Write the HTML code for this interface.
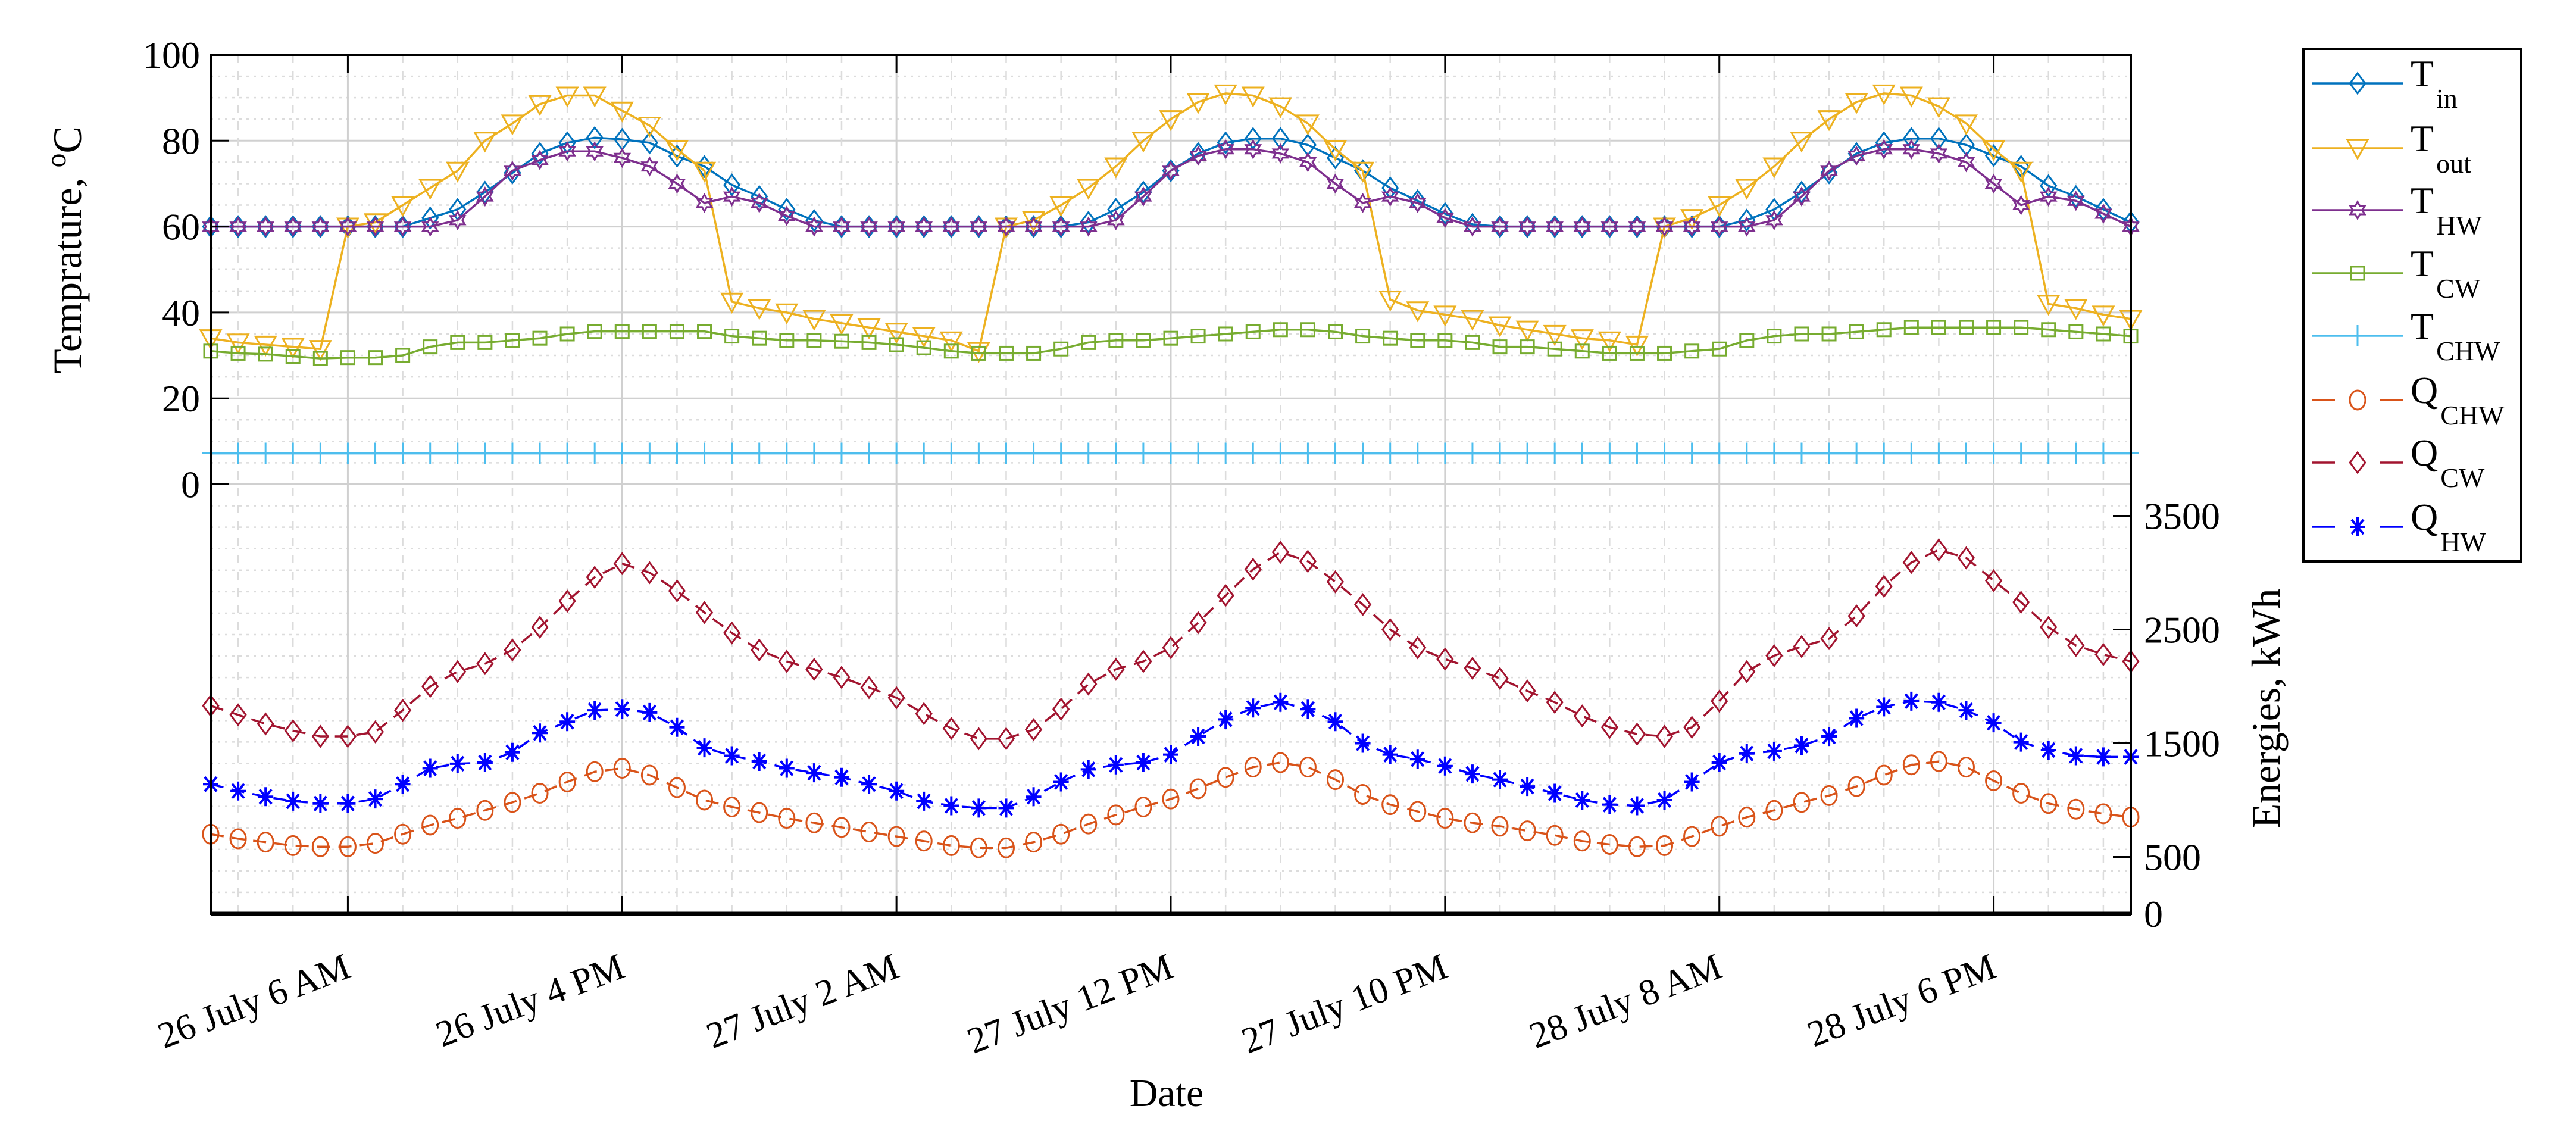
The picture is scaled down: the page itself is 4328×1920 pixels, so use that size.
<!DOCTYPE html>
<html><head><meta charset="utf-8"><style>
html,body{margin:0;padding:0;background:#fff;}
svg{display:block;font-family:"Liberation Serif",serif;}
</style></head><body>
<svg id="chart" width="4328" height="1920" viewBox="0 0 4328 1920" xmlns="http://www.w3.org/2000/svg">
<g id="grid"></g>
<g id="series"></g>
<g id="axes"></g>
<g id="legend"></g>
</svg>
<script>
const hoursCount = 71;
const xTickHours = [5,15,25,35,45,55,65];
const xTickLabels = ["26 July 6 AM","26 July 4 PM","27 July 2 AM","27 July 12 PM","27 July 10 PM","28 July 8 AM","28 July 6 PM"];
const leftTicks = [0,20,40,60,80,100];
const rightTicks = [0,500,1500,2500,3500];
const Tin = [60,60,60,60,60,60,60,60,62,64,68,72.5,77,79.5,80.7,80.3,79.5,76.4,74,69.7,67,64,61.4,60,
60,60,60,60,60,60,60,60,61,64,68,73,77,79.5,80.5,80.5,79,76,73,69,66,63,60.5,60,
60,60,60,60,60,60,60,60,61.5,64,68,72.5,77,79.5,80.5,80.5,79,76.5,74,69.5,67,64,61];
const Tout = [34,33,32.5,32,31.5,
60,61,65,69,73,80,84,88.5,90.5,90.5,87,83.5,78,73,42.5,41,40,38.5,37.5,36.5,35.5,34.5,33.5,31,
60,61.5,65,69,74,80,85,89,91,90.5,88,84,78,73,43,40.5,39.5,38.5,37,36,35,34,33.5,32.5,
60,62,65,69,74,80,85,89,91,90.5,88,84,78,73,42,41,39.5,38.5];
const THW = [60,60,60,60,60,60,60,60,60,61.5,67,73,75.5,77.5,77.5,76,74,70,65.5,67,65.5,62.5,60,60,
60,60,60,60,60,60,60,60,60,61.5,67,73,76.5,78,78,77,75,70,65.5,67,65.5,62,60,60,
60,60,60,60,60,60,60,60,60,61.5,67,73,76.5,78,78,77,75,70,65,67,66,63,60];
const TCW = [31,30.5,30.3,29.8,29.3,29.5,29.5,30,32,33,33,33.5,34,35,35.6,35.6,35.6,35.6,35.6,34.5,34,33.5,33.5,33.3,
33,32.5,31.8,31,30.5,30.5,30.5,31.5,33,33.5,33.5,34,34.5,35,35.5,36,36,35.5,34.5,34,33.5,33.5,33,32,
32,31.5,31,30.5,30.5,30.5,31,31.5,33.5,34.5,35,35,35.5,36,36.5,36.5,36.5,36.5,36.5,36,35.5,35,34.5];
const TCHW = [7.2,7.2,7.2,7.2,7.2,7.2,7.2,7.2,7.2,7.2,7.2,7.2,7.2,7.2,7.2,7.2,7.2,7.2,7.2,7.2,7.2,7.2,7.2,7.2,
7.2,7.2,7.2,7.2,7.2,7.2,7.2,7.2,7.2,7.2,7.2,7.2,7.2,7.2,7.2,7.2,7.2,7.2,7.2,7.2,7.2,7.2,7.2,7.2,
7.2,7.2,7.2,7.2,7.2,7.2,7.2,7.2,7.2,7.2,7.2,7.2,7.2,7.2,7.2,7.2,7.2,7.2,7.2,7.2,7.2,7.2,7.2];
const QCHW = [700,660,630,600,590,590,620,700,780,840,910,980,1060,1160,1250,1280,1220,1110,1000,940,890,840,800,760,
720,680,640,600,580,580,630,700,790,870,940,1010,1100,1200,1290,1330,1290,1180,1050,960,900,840,800,770,
730,690,640,610,590,600,680,770,850,910,980,1040,1120,1220,1310,1340,1290,1170,1060,970,920,880,850];
const QCW = [1830,1750,1670,1610,1560,1560,1600,1790,2000,2130,2200,2320,2520,2750,2960,3080,3000,2840,2650,2470,2320,2220,2150,2080,
1990,1900,1760,1630,1540,1540,1620,1800,2020,2150,2220,2340,2560,2800,3030,3180,3100,2920,2720,2500,2340,2240,2160,2070,
1960,1860,1740,1640,1580,1560,1640,1870,2130,2270,2350,2420,2620,2880,3090,3200,3130,2930,2740,2520,2360,2280,2220];
const QHW = [1140,1080,1030,990,970,970,1010,1140,1280,1320,1330,1420,1590,1690,1790,1800,1770,1640,1460,1390,1340,1280,1240,1200,
1140,1080,990,950,930,930,1030,1160,1270,1310,1330,1400,1560,1710,1810,1860,1800,1690,1500,1400,1360,1300,1230,1180,
1120,1060,1000,960,950,1000,1160,1330,1410,1430,1480,1560,1720,1820,1870,1860,1790,1680,1510,1440,1390,1380,1380];

const L=354,R=3580,T=92,B=1535;
const NS="http://www.w3.org/2000/svg";
function x(h){return L+h*(R-L)/(hoursCount-1);}
function yT(v){return B-(v+100)/200*(B-T);}
function yE(v){return B-v*0.191;}
function mk(tag,attrs,parent){const e=document.createElementNS(NS,tag);for(const k in attrs)e.setAttribute(k,attrs[k]);parent.appendChild(e);return e;}
const grid=document.getElementById('grid'),ser=document.getElementById('series'),axes=document.getElementById('axes'),leg=document.getElementById('legend');

for(let v=-95;v<100;v+=5){
  const major=(v%20===0&&v>=0);
  const ln=mk('line',{x1:L,x2:R,y1:yT(v),y2:yT(v),stroke:major?'#d0d0d0':'#dcdcdc','stroke-width':major?3:2.5,'stroke-dasharray':major?'':'4 8'},grid);
  
  
}
for(let h=1;h<hoursCount;h+=2){
  if(h>=hoursCount-1)break;
  const major=xTickHours.includes(h);
  const ln=mk('line',{x1:x(h),x2:x(h),y1:T,y2:B,stroke:major?'#d0d0d0':'#dcdcdc','stroke-width':major?3:2.5,'stroke-dasharray':major?'':'14 14'},grid);
  
  
}

function marker(type,cx,cy,color,g){
  const s=17;let e;
  if(type==='diamond')e=mk('polygon',{points:`${cx},${cy-s} ${cx+s*0.75},${cy} ${cx},${cy+s} ${cx-s*0.75},${cy}`},g);
  else if(type==='tri')e=mk('polygon',{points:`${cx-s},${cy-s*0.8} ${cx+s},${cy-s*0.8} ${cx},${cy+s}`},g);
  else if(type==='hex'){const p=[];for(let i=0;i<12;i++){const r=i%2?8:14;const a=Math.PI/6*i-Math.PI/2;p.push((cx+r*Math.cos(a)).toFixed(1)+','+(cy+r*Math.sin(a)).toFixed(1));}e=mk('polygon',{points:p.join(' ')},g);}
  else if(type==='square')e=mk('rect',{x:cx-11,y:cy-11,width:22,height:22},g);
  else if(type==='circle')e=mk('ellipse',{cx:cx,cy:cy,rx:13,ry:16},g);
  else if(type==='plus')e=mk('path',{d:`M${cx-14},${cy}H${cx+14}M${cx},${cy-18}V${cy+18}`},g);
  else if(type==='star')e=mk('path',{d:`M${cx-13},${cy}H${cx+13}M${cx},${cy-16}V${cy+16}M${cx-10},${cy-12}L${cx+10},${cy+12}M${cx-10},${cy+12}L${cx+10},${cy-12}`},g);
  e.setAttribute('fill','none');e.setAttribute('stroke',color);e.setAttribute('stroke-width',type==='star'?4:3);
  return e;
}
const seriesDefs=[
 {name:'t-in',data:Tin,color:'#0072BD',m:'diamond',ax:yT,dash:''},
 {name:'t-out',data:Tout,color:'#EDB120',m:'tri',ax:yT,dash:''},
 {name:'t-hw',data:THW,color:'#7E2F8E',m:'hex',ax:yT,dash:''},
 {name:'t-cw',data:TCW,color:'#77AC30',m:'square',ax:yT,dash:''},
 {name:'t-chw',data:TCHW,color:'#4DBEEE',m:'plus',ax:yT,dash:''},
 {name:'q-chw',data:QCHW,color:'#D95319',m:'circle',ax:yE,dash:'22 14'},
 {name:'q-cw',data:QCW,color:'#A2142F',m:'diamond',ax:yE,dash:'22 14'},
 {name:'q-hw',data:QHW,color:'#0000FF',m:'star',ax:yE,dash:'22 14'}
];
seriesDefs.forEach(s=>{
  const g=mk('g',{},ser);
  
  
  const pts=s.data.map((v,i)=>x(i).toFixed(1)+','+s.ax(v).toFixed(1)).join(' ');
  const pl=mk('polyline',{points:pts,fill:'none',stroke:s.color,'stroke-width':3.5,'stroke-dasharray':s.dash},g);
  
  
  s.data.forEach((v,i)=>{
    const m=marker(s.m,x(i),s.ax(v),s.color,g);
    
    
  });
});

const frame=mk('rect',{x:L,y:T,width:R-L,height:B-T,fill:'none',stroke:'#000','stroke-width':4},axes);


const bl=mk('line',{x1:L,x2:R,y1:B,y2:B,stroke:'#000','stroke-width':7},axes);


leftTicks.forEach(v=>{
  const t=mk('line',{x1:L,x2:L+30,y1:yT(v),y2:yT(v),stroke:'#000','stroke-width':3},axes);
  
  
  const tx=mk('text',{x:L-18,y:yT(v)+22,'text-anchor':'end','font-size':64,fill:'#000'},axes);
  tx.textContent=v;
  
  
});
rightTicks.forEach(v=>{
  const t=mk('line',{x1:R-30,x2:R,y1:yE(v),y2:yE(v),stroke:'#000','stroke-width':3},axes);
  
  
  const tx=mk('text',{x:R+22,y:yE(v)+22,'text-anchor':'start','font-size':64,fill:'#000'},axes);
  tx.textContent=v;
  
  
});
xTickHours.forEach((h,i)=>{
  const t1=mk('line',{x1:x(h),x2:x(h),y1:T,y2:T+30,stroke:'#000','stroke-width':3},axes);
  
  
  const t2=mk('line',{x1:x(h),x2:x(h),y1:B-30,y2:B,stroke:'#000','stroke-width':3},axes);
  
  
  const tx=mk('text',{x:x(h)+8,y:B+105,'text-anchor':'end','font-size':62,fill:'#000',transform:`rotate(-21 ${x(h)+8} ${B+105})`},axes);
  tx.textContent=xTickLabels[i];
  
  
});
const xt=mk('text',{x:1960,y:1858,'text-anchor':'middle','font-size':66,fill:'#000'},axes);
xt.textContent='Date';


const yl=mk('text',{x:0,y:0,'text-anchor':'middle','font-size':68,fill:'#000',transform:'translate(136 420) rotate(-90)'},axes);
yl.innerHTML='Temprature, <tspan dy="-26" font-size="48">o</tspan><tspan dy="26">C</tspan>';


const yr=mk('text',{x:0,y:0,'text-anchor':'middle','font-size':68,fill:'#000',transform:'translate(3830 1190) rotate(-90)'},axes);
yr.textContent='Energies, kWh';



const lbox=mk('rect',{x:3870,y:82,width:366,height:861,fill:'#fff',stroke:'#000','stroke-width':4},leg);


const legMain=['T','T','T','T','T','Q','Q','Q'];
const legSub=['in','out','HW','CW','CHW','CHW','CW','HW'];
const legY=[140,249,353,459,564,672,777,885];
seriesDefs.forEach((s,i)=>{
  const g=mk('g',{},leg);
  
  
  const y=legY[i];
  mk('line',{x1:3885,x2:4037,y1:y,y2:y,stroke:s.color,'stroke-width':3.5,'stroke-dasharray':s.dash?'38 76':''},g);
  marker(s.m,3961,y,s.color,g);
  const t=mk('text',{x:4050,y:y+5,'font-size':64,fill:'#000'},g);
  t.innerHTML=legMain[i]+'<tspan dx="4" dy="36" font-size="46">'+legSub[i]+'</tspan>';
});
</script>
</body></html>
